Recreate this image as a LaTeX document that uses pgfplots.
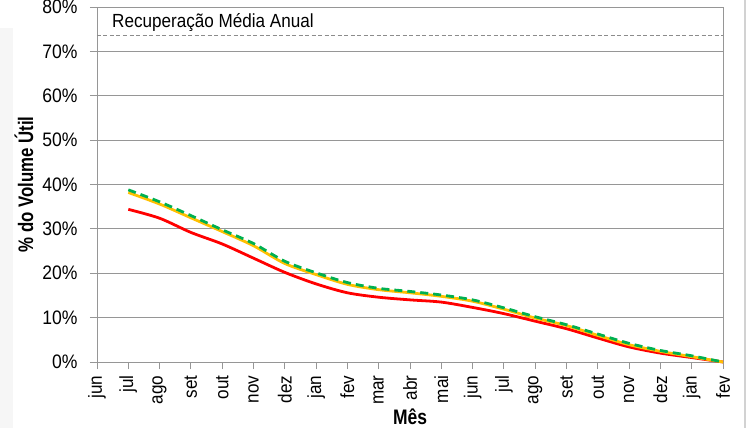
\documentclass[border=0pt]{standalone}
\usepackage{graphicx}
\usepackage{pgfplots}
\pgfplotsset{compat=1.18}
\usepackage{fontspec}
\setmainfont{Liberation Sans}[FakeStretch=0.9]
\definecolor{xgreen}{RGB}{0,176,80}
\definecolor{xyellow}{RGB}{255,192,0}
\definecolor{xred}{RGB}{255,0,0}
\definecolor{gridgray}{RGB}{150,150,150}
\definecolor{dashgray}{RGB}{140,140,140}

\pgfplotstableread{
x green yellow red
1 38.8 38.2 34.4
2 36.1 35.6 32.4
3 33.0 32.5 29.2
4 29.8 29.4 26.6
5 26.7 26.2 23.4
6 22.7 22.2 20.2
7 20.1 19.7 17.6
8 17.9 17.5 15.6
9 16.6 16.3 14.6
10 15.9 15.6 14.0
11 15.1 14.8 13.5
12 14.0 13.7 12.3
13 12.2 11.9 10.9
14 10.2 9.9 9.2
15 8.4 8.2 7.5
16 6.3 6.0 5.4
17 4.2 3.9 3.4
18 2.6 2.4 2.0
19 1.4 1.2 1.0
20 0.0 0.0 0.0
}\datatable

\begin{document}
\fontsize{19bp}{22bp}\selectfont
\begin{tikzpicture}[x=1bp,y=1bp]
\path[use as bounding box] (-97,-66) rectangle (651,362);
\fill[gray!7] (-97,-66) rectangle (-84,334);
\begin{axis}[
  at={(0,0)}, anchor=south west,
  scale only axis, width=626bp, height=355bp,
  xmin=0, xmax=20, ymin=0, ymax=80,
  xtick={0,...,20},
  xticklabels={jun,jul,ago,set,out,nov,dez,jan,fev,mar,abr,mai,jun,jul,ago,set,out,nov,dez,jan,fev},
  x tick label style={rotate=90, anchor=east, font=\fontsize{19bp}{22bp}\selectfont},
  ytick={0,10,...,80},
  yticklabel={\pgfmathprintnumber{\tick}\%},
  y tick label style={font=\fontsize{19.5bp}{22bp}\selectfont, xshift=-6bp},
  /pgf/number format/assume math mode=true,
  xtick pos=bottom, ytick pos=left,
  tick align=outside, major tick length=7bp,
  ymajorgrids,
  grid style={gridgray, line width=0.9bp},
  axis line style={gridgray, line width=0.9bp},
  tick style={gridgray, line width=0.9bp},
  xlabel={\resizebox{34bp}{\height}{\bfseries\fontsize{21bp}{24bp}\selectfont Mês}},
  ylabel={\resizebox{136bp}{\height}{\bfseries\fontsize{21bp}{24bp}\selectfont \% do Volume Útil}},
  every axis x label/.style={at={(axis description cs:0.5,0)}, yshift=-55bp, anchor=center, inner sep=0pt},
  every axis y label/.style={at={(axis description cs:0,0.5)}, xshift=-73bp, rotate=90, anchor=center, inner sep=0pt},
  clip=false,
]
\addplot[dashgray, line width=1.1bp, dash pattern=on 4bp off 2.5bp] coordinates {(0,73.5) (20,73.5)};
\node[anchor=base west, inner sep=0pt, font=\fontsize{19bp}{22bp}\selectfont] at (axis cs:0.48,75.4) {Recuperação Média Anual};
\addplot[xred, line width=2.8bp, smooth, tension=0.5] table[x=x, y=red] {\datatable};
\addplot[xyellow, line width=2.8bp, smooth, tension=0.5] table[x=x, y=yellow] {\datatable};
\addplot[xgreen, line width=2.8bp, smooth, tension=0.5, dash pattern=on 8bp off 5bp] table[x=x, y=green] {\datatable};
\end{axis}
\draw[gray!35, line width=2bp] (648,362) -- (648,-66);
\end{tikzpicture}
\end{document}
